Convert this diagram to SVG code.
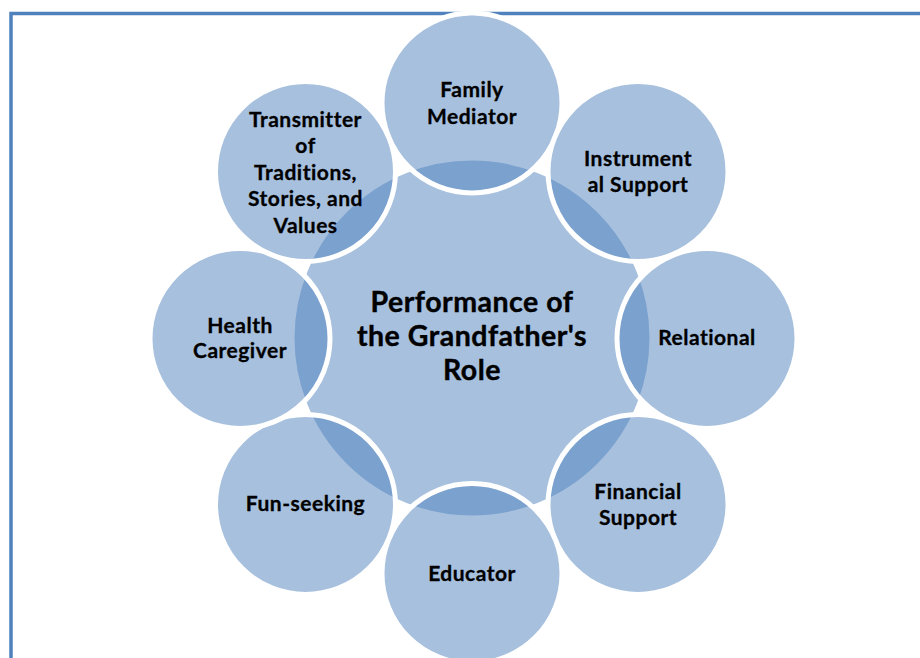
<svg xmlns="http://www.w3.org/2000/svg" width="920" height="658" viewBox="0 0 920 658">
<style>
.c{fill:#4F81BD;fill-opacity:0.5;stroke:#FFFFFF;stroke-width:5}
.t{font-family:Lato,"Liberation Sans",sans-serif;font-weight:bold;font-size:21px;fill:#000;text-anchor:middle;letter-spacing:0.5px;stroke:#000;stroke-width:0.3px}
.m{font-family:Lato,"Liberation Sans",sans-serif;font-weight:bold;font-size:28.5px;fill:#000;text-anchor:middle;letter-spacing:0.5px;stroke:#000;stroke-width:0.4px}
</style>
<rect x="0" y="0" width="920" height="658" fill="#FFFFFF"/>
<rect x="11" y="13.5" width="960" height="700" fill="none" stroke="#4F81BD" stroke-width="3.5"/>
<g id="center">
<circle class="c" cx="472" cy="338" r="180"/>
<text class="m" x="472" y="312">Performance of</text>
<text class="m" x="472" y="346">the Grandfather's</text>
<text class="m" x="472" y="380">Role</text>
</g>
<g id="family">
<circle class="c" cx="472" cy="103" r="90"/>
<text class="t" x="472" y="97">Family</text>
<text class="t" x="472" y="123.5">Mediator</text>
</g>
<g id="instrumental">
<circle class="c" cx="638" cy="171.5" r="90"/>
<text class="t" x="638" y="166">Instrument</text>
<text class="t" x="638" y="192">al Support</text>
</g>
<g id="relational">
<circle class="c" cx="707" cy="338.5" r="90"/>
<text class="t" x="707" y="345">Relational</text>
</g>
<g id="financial">
<circle class="c" cx="638" cy="504.5" r="90"/>
<text class="t" x="638" y="499">Financial</text>
<text class="t" x="638" y="525">Support</text>
</g>
<g id="educator">
<circle class="c" cx="472" cy="573.5" r="90"/>
<text class="t" x="472" y="581">Educator</text>
</g>
<g id="funseeking">
<circle class="c" cx="305.5" cy="504.5" r="90"/>
<text class="t" x="305.5" y="511">Fun-seeking</text>
</g>
<g id="health">
<circle class="c" cx="240" cy="338.5" r="90"/>
<text class="t" x="240" y="332.7">Health</text>
<text class="t" x="240" y="358.3">Caregiver</text>
</g>
<g id="transmitter">
<circle class="c" cx="305.5" cy="171.5" r="90"/>
<text class="t" x="305.5" y="126.7">Transmitter</text>
<text class="t" x="305.5" y="153">of</text>
<text class="t" x="305.5" y="179.5">Traditions,</text>
<text class="t" x="305.5" y="206">Stories, and</text>
<text class="t" x="305.5" y="232.5">Values</text>
</g>
</svg>
